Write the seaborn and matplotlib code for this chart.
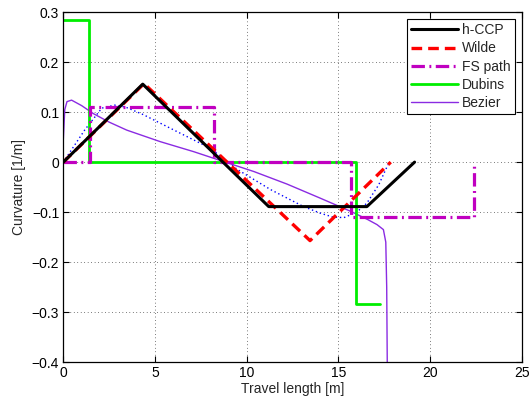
import numpy as np
import pandas as pd
import seaborn as sns
import matplotlib
matplotlib.use("Agg")
import matplotlib.pyplot as plt
from matplotlib.ticker import FuncFormatter

# curvature profiles
hccp_x = [0, 4.33, 11.2, 16.55, 19.15]
hccp_y = [0, 0.156, -0.089, -0.089, 0]

wilde_x = [0, 4.4, 13.45, 17.85]
wilde_y = [0, 0.157, -0.157, 0]

fs_x = [0, 1.45, 1.45, 8.2, 8.2, 15.7, 15.7, 22.4, 22.4]
fs_y = [0, 0, 0.11, 0.11, 0, 0, -0.11, -0.11, 0]

# unlabelled dotted curve (smooth FS variant)
fs2_x = [0, 1.18, 2.1, 2.8, 3.4, 4.36, 6.2, 8.0, 9.5, 11.3, 13.1, 14.0, 14.7, 15.3, 16.0, 16.55, 17.2, 17.7]
fs2_y = [0, 0.065, 0.108, 0.114, 0.11, 0.095, 0.061, 0.028, -0.015, -0.055, -0.089, -0.102, -0.11, -0.111, -0.1, -0.082, -0.045, -0.005]

dubins_x = [0, 1.42, 1.42, 15.97, 15.97, 17.28]
dubins_y = [0.285, 0.285, 0, 0, -0.284, -0.284]

bezier_x = [0, 0.08, 0.2, 0.45, 1.0, 1.64, 2.5, 3.46, 5.28, 7.1, 8.5, 10.4, 12.2, 14.0, 15.7, 16.6, 17.1, 17.45, 17.58, 17.63, 17.66]
bezier_y = [0.045, 0.105, 0.121, 0.124, 0.113, 0.097, 0.08, 0.064, 0.041, 0.021, 0.004, -0.019, -0.044, -0.072, -0.099, -0.115, -0.125, -0.135, -0.16, -0.25, -0.4]

sns.set_style("ticks")
plt.rcParams['font.family'] = ['Liberation Sans', 'DejaVu Sans']
plt.rcParams['font.size'] = 10

fig = plt.figure(figsize=(5.32, 4.05), dpi=100)
ax = fig.add_axes([0.119, 0.106, 0.862, 0.864])

def draw(x, y, **kw):
    df = pd.DataFrame({'x': x, 'y': y})
    sns.lineplot(data=df, x='x', y='y', sort=False, estimator=None, ax=ax, **kw)

draw(fs2_x, fs2_y, color='blue', lw=1.0, linestyle=(0, (1, 2.0)))
draw(bezier_x, bezier_y, color='#8a2be2', lw=1.0, label='Bezier')
draw(dubins_x, dubins_y, color='#00ee00', lw=2.0, label='Dubins')
draw(fs_x, fs_y, color='#c000c0', lw=2.3, linestyle=(0, (4.2, 1.4, 0.6, 1.4)), label='FS path')
draw(wilde_x, wilde_y, color='red', lw=2.4, linestyle=(0, (3.2, 1.8)), label='Wilde')
draw(hccp_x, hccp_y, color='black', lw=2.2, label='h-CCP')

def yfmt(v, p):
    s = '%g' % (round(v, 2) + 0.0)
    return '0' if s in ('0', '-0') else s.replace('-', '\u2212')

ax.set_xlim(0, 25)
ax.set_ylim(-0.4, 0.3)
ax.set_xticks([0, 5, 10, 15, 20, 25])
ax.set_yticks(np.arange(-0.4, 0.31, 0.1))
ax.yaxis.set_major_formatter(FuncFormatter(yfmt))
ax.xaxis.set_major_formatter(FuncFormatter(lambda v, p: '%g' % v))
ax.grid(True, color='black', lw=0.5, linestyle=(0, (1, 4)))
ax.tick_params(direction='in', top=True, right=True, length=4, width=0.8, colors='black', labelsize=10, pad=3)
for s in ax.spines.values():
    s.set_color('black')
    s.set_linewidth(0.9)
ax.set_xlabel('Travel length [m]', labelpad=1)
ax.set_ylabel('Curvature [1/m]', labelpad=4)

h, l = ax.get_legend_handles_labels()
order = ['h-CCP', 'Wilde', 'FS path', 'Dubins', 'Bezier']
hs = [h[l.index(o)] for o in order]
leg = ax.legend(hs, order, loc='upper right', fancybox=False, framealpha=1, edgecolor='black',
                borderaxespad=0.5, handlelength=3.4, handletextpad=0.3, labelspacing=0.3,
                borderpad=0.3, fontsize=10)
leg.get_frame().set_linewidth(0.8)

fig.savefig('out.png', dpi=100)
